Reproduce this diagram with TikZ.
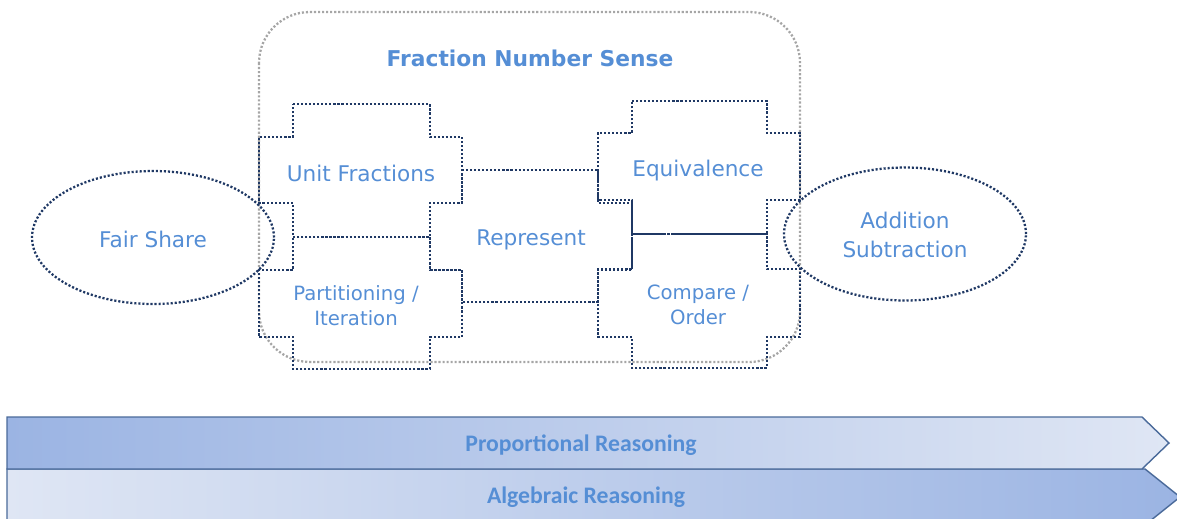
\documentclass[tikz,border=0pt]{standalone}
\usepackage{fontspec}
\setmainfont{DejaVu Sans}
\newfontfamily\barfont{Carlito}
\usepackage{xcolor}
\usetikzlibrary{positioning,shapes.geometric}
\definecolor{fnsblue}{HTML}{558ED5}
\definecolor{fnsnavy}{HTML}{1F3864}
\definecolor{fnsgray}{HTML}{A6A6A6}
\definecolor{baredge}{HTML}{4A6A9A}
\definecolor{bardark}{HTML}{9BB4E3}
\definecolor{barlight}{HTML}{DFE6F4}
\tikzset{
    piece/.style={draw=fnsnavy, line width=1.3pt, dash pattern=on 1.2pt off 1.1pt},
    bigframe/.style={draw=fnsgray, line width=1.3pt, dash pattern=on 1.2pt off 1.1pt, rounded corners=29pt},
    oval/.style={ellipse, piece, minimum width=4.84cm, minimum height=2.66cm, inner sep=0pt},
    piecetext/.style={text=fnsblue, align=center, font=\fontsize{12.3}{16.4}\selectfont},
    smalltext/.style={text=fnsblue, align=center, font=\fontsize{11.2}{14.2}\selectfont},
    bar/.style={draw=baredge, line width=0.8pt},
    bartext/.style={text=fnsblue, font=\barfont\bfseries\fontsize{13.5}{16}\selectfont}
}
\begin{document}
\begin{tikzpicture}[x=0.02cm,y=-0.02cm]
    \useasboundingbox (0,0) rectangle (1177,518);
    \clip (0,0) rectangle (1177,518);
    % reasoning bars
    \path[bar, left color=barlight, right color=bardark] (7,469) -- (1145,469) -- (1180,497) -- (1145,525) -- (7,525) -- cycle;
    \path[bar, left color=bardark, right color=barlight] (7,417) -- (1142,417) -- (1169,443) -- (1142,469) -- (7,469) -- cycle;
    \node[bartext] (prop) at (581,445) {Proportional Reasoning};
    \node[bartext] (alg) at (586,497) {Algebraic Reasoning};
    % frame
    \draw[bigframe] (259,12) rectangle (800,362);
    \node[text=fnsblue, font=\bfseries\fontsize{12.4}{15}\selectfont] (title) at (530,58) {Fraction Number Sense};
    % pieces
    \draw[piece] (293,104) -- (430,104) -- (430,137) -- (462,137) -- (462,203) -- (430,203) -- (430,237) -- (293,237) -- (293,203) -- (259,203) -- (259,137) -- (293,137) -- cycle;
    \draw[piece] (293,237) -- (430,237) -- (430,270) -- (462,270) -- (462,337) -- (430,337) -- (430,369) -- (293,369) -- (293,337) -- (259,337) -- (259,270) -- (293,270) -- cycle;
    \draw[piece] (462,170) -- (598,170) -- (598,203) -- (632,203) -- (632,270) -- (598,270) -- (598,302) -- (462,302) -- (462,270) -- (430,270) -- (430,203) -- (462,203) -- cycle;
    \draw[piece] (632,101) -- (767,101) -- (767,133) -- (800,133) -- (800,200) -- (767,200) -- (767,234) -- (632,234) -- (632,200) -- (598,200) -- (598,133) -- (632,133) -- cycle;
    \draw[piece] (632,234) -- (767,234) -- (767,269) -- (800,269) -- (800,337) -- (767,337) -- (767,368) -- (632,368) -- (632,337) -- (598,337) -- (598,269) -- (632,269) -- cycle;
    \node[piecetext] (unit) at (361,173) {Unit Fractions};
    \node[smalltext] (part) at (356,306) {Partitioning /\\Iteration};
    \node[piecetext] (repr) at (531,240) {Represent};
    \node[piecetext] (equiv) at (698,171) {Equivalence};
    \node[smalltext] (comp) at (698,305) {Compare /\\Order};
    % ovals
    \node[oval] (fair) at (153,237.5) {};
    \node[piecetext] at (153,239.5) {Fair Share};
    \node[oval] (addsub) at (905,234) {};
    \node[piecetext] at (905,235) {Addition\\Subtraction};
\end{tikzpicture}
\end{document}
